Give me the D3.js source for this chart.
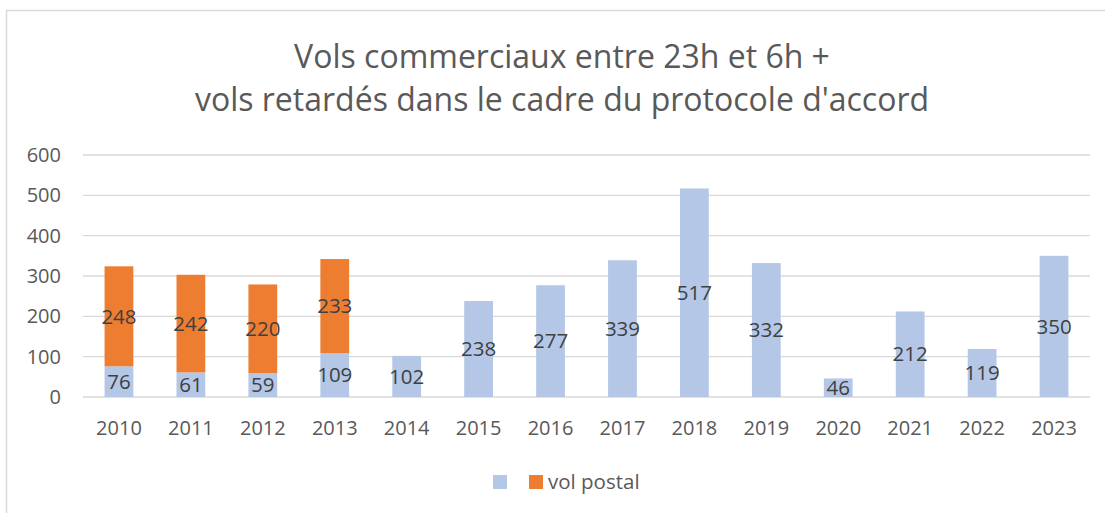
<!doctype html>
<html>
<head>
<meta charset="utf-8">
<script src="https://cdn.jsdelivr.net/npm/d3@7/dist/d3.min.js"></script>
<style>
  body { margin: 0; background: #fff; }
  svg { display: block; font-family: "Open Sans", "Noto Sans", sans-serif; }
</style>
</head>
<body>
<svg width="1105" height="513"></svg>
<script>
// data
var years = ["2010","2011","2012","2013","2014","2015","2016","2017","2018","2019","2020","2021","2022","2023"];
var commercial = [76, 61, 59, 109, 102, 238, 277, 339, 517, 332, 46, 212, 119, 350];
var postal = [248, 242, 220, 233, 0, 0, 0, 0, 0, 0, 0, 0, 0, 0];
var yTicks = [0, 100, 200, 300, 400, 500, 600];
var titleLines = ["Vols commerciaux entre 23h et 6h +", "vols retardés dans le cadre du protocole d'accord"];

var svg = d3.select("svg");
var blue = "#b4c7e7", orange = "#ed7d31", grid = "#d9d9d9", txt = "#595959";

// chart frame
svg.append("rect").attr("x", 6.5).attr("y", 10.5).attr("width", 1110).attr("height", 520)
   .attr("fill", "none").attr("stroke", grid).attr("stroke-width", 1.5);

var x = d3.scaleBand().domain(years).range([83, 1090]).paddingInner(0.6).paddingOuter(0.3);
var y = d3.scaleLinear().domain([0, 600]).range([397, 155]);

// gridlines
svg.append("g").selectAll("line").data(yTicks).join("line")
   .attr("x1", 83).attr("x2", 1090)
   .attr("y1", function(d) { return y(d); }).attr("y2", function(d) { return y(d); })
   .attr("stroke", grid).attr("stroke-width", 1.3);

// y axis labels
var yAxis = d3.axisLeft(y).tickValues(yTicks).tickSize(0).tickPadding(0);
var yg = svg.append("g").attr("transform", "translate(61,0)").call(yAxis);
yg.select(".domain").remove();
yg.selectAll("text").attr("font-size", 20).attr("fill", txt).attr("font-family", "Open Sans");

// x axis labels
var xAxis = d3.axisBottom(x).tickSize(0).tickPadding(0);
var xg = svg.append("g").attr("transform", "translate(0,421)").call(xAxis);
xg.select(".domain").remove();
xg.selectAll("text").attr("font-size", 20).attr("fill", txt).attr("font-family", "Open Sans");

var rows = years.map(function(yr, i) { return { year: yr, c: commercial[i], p: postal[i] }; });

// commercial (blue) bars
svg.append("g").selectAll("rect").data(rows).join("rect")
   .attr("x", function(d) { return x(d.year); })
   .attr("width", x.bandwidth())
   .attr("y", function(d) { return y(d.c); })
   .attr("height", function(d) { return y(0) - y(d.c); })
   .attr("fill", blue);

// postal (orange) bars stacked on top
svg.append("g").selectAll("rect").data(rows.filter(function(d) { return d.p > 0; })).join("rect")
   .attr("x", function(d) { return x(d.year); })
   .attr("width", x.bandwidth())
   .attr("y", function(d) { return y(d.c + d.p); })
   .attr("height", function(d) { return y(d.c) - y(d.c + d.p); })
   .attr("fill", orange);

// data labels
var lab = svg.append("g").attr("font-size", 20.5).attr("fill", "#404040").attr("text-anchor", "middle");
lab.selectAll("text.c").data(rows).join("text").attr("class", "c")
   .attr("x", function(d) { return x(d.year) + x.bandwidth() / 2; })
   .attr("y", function(d) { return (y(0) + y(d.c)) / 2; })
   .attr("dy", "0.35em")
   .text(function(d) { return d.c; });
lab.selectAll("text.p").data(rows.filter(function(d) { return d.p > 0; })).join("text").attr("class", "p")
   .attr("x", function(d) { return x(d.year) + x.bandwidth() / 2; })
   .attr("y", function(d) { return (y(d.c) + y(d.c + d.p)) / 2; })
   .attr("dy", "0.35em")
   .text(function(d) { return d.p; });

// title
svg.append("g").selectAll("text").data(titleLines).join("text")
   .attr("x", 562).attr("y", function(d, i) { return 57 + i * 43; })
   .attr("dy", "0.35em")
   .attr("text-anchor", "middle").attr("font-size", 32).attr("fill", txt)
   .text(function(d) { return d; });

// legend
svg.append("rect").attr("x", 493).attr("y", 475).attr("width", 14).attr("height", 14).attr("fill", blue);
svg.append("rect").attr("x", 529).attr("y", 475).attr("width", 14).attr("height", 14).attr("fill", orange);
svg.append("text").attr("x", 548).attr("y", 482).attr("dy", "0.35em")
   .attr("font-size", 20.5).attr("fill", txt).text("vol postal");
</script>
</body>
</html>
